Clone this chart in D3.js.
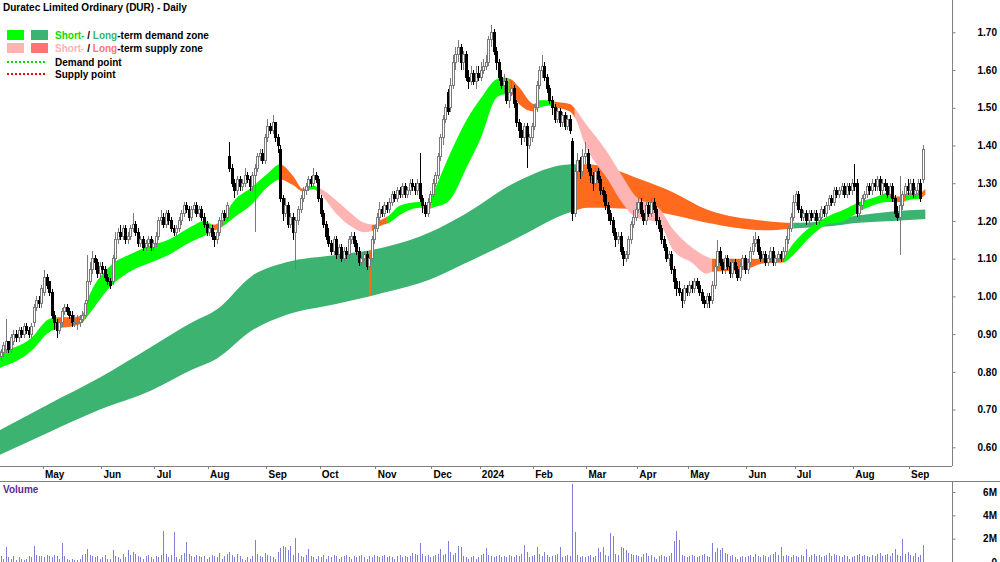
<!DOCTYPE html>
<html>
<head>
<meta charset="utf-8">
<script src="https://cdn.jsdelivr.net/npm/d3@7"></script>
<style>
  body { margin: 0; background: #fff; }
  svg { display: block; font-family: "Liberation Sans", Arial, sans-serif; }
</style>
</head>
<body>
<svg id="chart" width="1000" height="562"></svg>
<script>
// daily candles, prices in cents (one value per trading day, Apr 2023 -> Sep 2024)
const opens = [
  84,85,86,88,86,88,90,89,91,90, 92,91,90,93,97,99,98,101,105,104,
  101,95,93,91,93,96,97,96,95,93, 93,93,94,95,99,104,107,110,109,106,
  108,107,105,104,104,110,115,117,116,118, 115,116,118,119,117,114,115,113,114,115,
  113,114,116,120,121,119,122,120,118,117, 118,120,122,124,123,121,123,124,122,123,
  121,119,117,118,116,115,117,120,122,121, 137,134,130,128,131,129,130,132,131,129,
  132,134,137,138,136,142,145,144,146,142, 139,126,122,124,119,121,117,120,123,126,
  128,129,131,130,132,131,126,122,119,116, 114,112,115,111,113,110,112,111,115,116,
  114,112,109,110,111,108,110,115,118,121, 123,122,124,123,125,127,126,128,127,129,
  127,128,130,129,128,130,126,124,122,125, 127,130,132,137,142,147,154,150,156,162,
  164,166,162,164,158,157,159,157,159,158, 160,161,162,168,170,165,162,158,156,157,
  152,154,155,151,146,144,142,145,140,142, 145,150,156,160,161,158,155,152,150,147,
  149,146,148,145,147,141,122,133,136,133, 137,138,134,132,130,133,131,128,127,124,
  122,120,117,115,116,112,110,111,115,119, 121,123,125,122,120,124,122,125,123,120,
  118,115,113,110,111,107,104,102,101,99, 102,101,103,102,104,103,101,99,98,100,
  99,103,108,112,109,107,110,108,106,109, 107,105,108,110,107,109,112,114,115,112,
  110,111,109,110,112,109,110,111,110,112, 115,118,121,125,127,123,121,122,120,122,
  121,122,120,121,123,122,124,126,125,128, 127,128,129,127,129,128,130,130,122,124,
  126,127,129,128,130,129,131,128,130,129, 127,129,126,122,121,124,127,129,128,130,
  127,128,130,131
]
const highs = [
  86,88,94,88,90,91,91,92,92,93, 93,92,93,98,100,100,103,107,106,104,
  102,96,94,94,97,98,98,97,96,95, 95,95,96,99,111,109,112,111,110,109,
  109,108,106,105,111,117,118,119,119,119, 117,119,122,120,118,116,116,115,116,116,
  115,117,121,123,122,123,123,121,119,119, 121,123,125,125,124,124,125,125,124,124,
  122,120,119,119,117,118,121,123,123,125, 141,135,131,132,132,131,134,133,132,133,
  135,138,139,139,143,147,146,148,146,143, 140,127,126,125,122,122,121,124,127,129,
  130,132,132,134,133,132,127,123,120,118, 115,116,116,114,114,113,113,116,117,117,
  115,113,111,112,112,111,116,119,122,125, 124,125,125,126,128,128,129,129,130,130,
  129,131,131,130,131,138,127,125,126,128, 131,133,138,143,148,151,155,158,164,166,
  168,167,165,165,160,161,160,161,161,162, 163,164,169,172,171,166,163,160,159,158,
  155,157,156,152,147,146,146,146,143,146, 151,157,161,164,162,159,156,153,151,150,
  150,149,149,148,148,142,134,138,137,139, 141,139,135,133,134,134,132,129,128,125,
  123,121,118,117,117,113,112,116,120,123, 125,126,126,123,125,125,126,126,124,121,
  119,116,114,112,112,108,105,104,102,103, 103,104,104,105,105,104,102,100,101,101,
  104,110,115,113,110,111,111,109,110,110, 108,109,111,111,110,113,116,117,116,113,
  112,112,111,113,113,111,112,112,113,116, 119,122,127,128,128,124,123,123,123,123,
  123,123,122,124,124,125,127,127,129,129, 129,130,130,130,130,131,135,131,125,127,
  128,130,130,131,131,132,132,131,131,130, 130,130,127,124,132,128,130,131,131,131,
  129,131,131,140
]
const lows = [
  83,84,85,85,85,87,88,88,89,89, 90,89,89,92,96,97,97,100,102,100,
  94,91,89,90,92,95,95,94,92,92, 91,92,93,94,98,103,106,107,105,105,
  106,104,103,102,103,109,114,115,115,114, 114,115,117,116,113,113,112,112,113,112,
  112,113,115,119,118,118,119,117,116,116, 117,119,121,122,120,120,122,121,121,120,
  118,116,116,115,113,114,116,119,120,120, 133,129,126,127,128,128,129,130,128,128,
  117,133,136,135,135,141,143,143,141,138, 125,120,121,118,118,115,107,119,122,125,
  127,128,129,129,130,125,121,118,115,113, 111,111,110,110,109,109,110,110,114,113,
  111,108,108,109,107,107,109,114,117,120, 121,121,122,122,124,125,125,126,126,126,
  126,127,128,127,127,125,122,121,121,124, 126,129,131,136,140,146,148,149,155,160,
  162,160,160,157,155,156,156,155,157,157, 159,160,161,166,164,160,157,155,154,151,
  150,153,150,145,142,140,141,134,139,141, 144,149,155,158,157,154,151,148,146,146,
  145,145,144,144,143,120,121,131,131,132, 135,133,130,128,129,130,127,125,123,120,
  119,116,113,114,111,108,109,110,114,118, 120,122,121,119,119,121,121,122,119,117,
  114,112,109,108,106,102,100,100,97,98, 100,100,101,101,102,100,98,97,97,97,
  98,102,107,108,106,106,107,105,105,106, 104,104,107,106,106,108,111,113,111,109,
  109,108,108,109,108,108,109,109,109,111, 114,117,120,124,122,120,120,119,119,120,
  120,119,119,120,121,121,123,124,124,126, 126,127,126,126,127,127,128,121,120,123,
  125,126,127,127,128,128,127,127,128,126, 126,125,121,120,111,123,126,127,127,126,
  126,127,125,130
]
const closes = [
  85,87,88,86,89,90,89,91,90,92, 91,90,92,97,99,98,102,105,103,101,
  95,93,91,93,96,97,96,95,93,93, 93,94,95,98,104,107,110,109,106,108,
  107,105,104,103,110,115,117,116,118,115, 116,118,119,117,114,115,113,114,115,113,
  114,116,120,121,119,122,120,118,117,118, 120,122,124,123,121,123,124,122,123,121,
  119,117,118,116,115,117,120,122,121,124, 134,130,128,131,129,130,132,131,129,132,
  134,137,138,136,142,145,144,146,142,140, 126,122,124,119,121,117,120,123,126,128,
  129,131,130,132,131,126,122,119,116,114, 112,115,111,113,110,112,111,115,116,114,
  112,109,110,111,108,110,115,118,121,123, 122,124,123,125,127,126,128,127,129,127,
  128,130,129,128,130,126,124,122,125,127, 130,132,137,142,147,150,149,156,162,164,
  166,162,164,158,157,159,157,159,158,160, 161,162,168,170,165,162,158,156,157,152,
  154,155,151,146,144,142,145,140,142,145, 150,156,160,161,158,155,152,150,147,149,
  146,148,145,147,144,122,133,136,133,137, 138,134,132,130,133,131,128,127,124,122,
  120,117,115,116,112,110,111,115,119,121, 123,125,122,120,124,122,125,123,120,118,
  115,113,110,111,107,104,102,101,99,102, 101,103,102,104,103,101,99,98,100,99,
  103,108,112,109,107,110,108,106,109,107, 105,108,110,107,109,112,114,115,112,110,
  111,109,110,112,109,110,111,110,112,115, 118,121,125,127,123,121,122,120,122,121,
  122,120,121,123,122,124,126,125,128,127, 128,129,127,129,128,130,129,122,124,126,
  127,129,128,130,129,131,128,130,129,127, 129,126,122,121,124,127,129,128,130,127,
  128,130,126,139
]
// daily volume, millions of shares
const volumes = [
  0.5,0.3,1.3,0.4,0.3,0.5,0.2,0.4,0.3,0.2, 0.3,0.5,0.4,1.4,0.6,0.5,0.5,0.4,0.6,0.5,
  0.4,0.6,0.5,0.3,1.6,0.5,0.3,0.2,0.3,0.2, 0.2,0.3,0.6,0.7,1.1,0.6,0.5,0.4,0.5,0.3,
  0.4,0.6,0.3,0.3,1.0,0.5,0.4,0.3,0.7,0.4, 1.0,0.6,0.9,0.7,0.5,0.4,0.3,0.5,0.6,0.4,
  0.3,0.5,0.4,0.6,2.7,0.7,0.4,0.6,2.6,0.4, 0.3,0.6,0.8,1.7,0.7,0.5,0.4,0.6,0.5,0.4,
  0.5,0.3,0.4,0.6,0.5,0.4,0.8,0.3,0.5,0.7, 0.9,0.6,0.4,0.7,0.5,0.3,0.2,0.4,0.3,0.5,
  1.9,0.7,0.5,0.4,0.8,0.6,0.5,0.4,0.3,0.9, 1.2,1.4,1.3,1.0,1.4,0.6,2.1,0.8,0.5,0.4,
  0.6,1.1,0.5,0.4,0.3,0.5,0.4,0.6,0.3,0.5, 0.4,0.6,0.5,0.3,0.4,0.5,0.6,0.4,0.3,0.5,
  0.4,0.5,0.6,0.4,0.3,0.5,0.4,0.6,0.5,0.4, 0.5,0.6,0.4,0.5,0.4,0.3,0.5,0.6,0.4,0.5,
  0.4,0.5,0.8,0.7,0.6,1.6,0.7,0.5,0.6,0.4, 0.5,0.6,0.7,1.1,0.6,0.7,1.8,0.9,0.6,0.8,
  1.4,1.3,0.5,0.4,0.3,0.4,0.5,0.3,0.4,0.6, 0.7,1.2,0.6,0.5,0.4,0.5,0.6,0.4,0.5,0.4,
  0.6,0.5,0.4,0.6,0.5,0.7,1.5,0.9,0.4,0.5, 0.6,1.3,0.7,0.5,0.9,0.6,0.4,0.5,0.6,0.7,
  1.3,0.4,0.5,0.6,0.5,6.7,2.6,0.6,0.4,0.5, 0.4,0.5,0.6,0.4,0.5,1.2,0.9,1.3,0.6,0.5,
  2.5,2.2,0.7,0.6,1.3,1.2,1.0,0.8,0.7,0.6, 0.6,0.5,0.4,0.7,0.8,0.5,0.6,0.4,0.3,0.5,
  0.6,0.5,0.4,0.5,0.8,1.8,2.7,1.9,0.6,0.5, 0.4,0.5,0.6,0.5,0.4,0.5,0.6,0.7,0.5,0.4,
  1.6,0.9,1.2,1.0,1.2,0.8,0.7,0.5,0.6,0.4, 0.3,0.4,0.5,0.4,0.5,0.6,0.4,0.7,0.5,0.4,
  0.6,0.5,0.4,0.6,0.7,0.9,0.6,1.3,0.5,0.6, 0.5,0.4,0.6,0.5,0.4,0.6,0.5,1.1,0.4,0.6,
  0.7,0.5,0.6,0.4,0.5,0.6,0.8,0.5,0.7,0.6, 0.5,0.4,0.6,0.5,0.3,0.4,0.5,0.6,0.7,0.5,
  0.6,0.5,0.4,0.6,0.5,0.7,0.8,0.5,0.6,0.7, 0.5,0.8,1.1,0.6,0.5,2.0,0.7,0.9,0.6,0.5,
  0.8,0.4,0.6,1.5
]

// month labels and the trading-day index where each month starts
const monthLabels = ['May', 'Jun', 'Jul', 'Aug', 'Sep', 'Oct', 'Nov', 'Dec', '2024', 'Feb', 'Mar', 'Apr', 'May', 'Jun', 'Jul', 'Aug', 'Sep']
const monthStarts = [17, 40, 61, 82, 105, 126, 148, 170, 189, 210, 231, 251, 271, 294, 313, 336, 358]

const priceTicks = [0.6, 0.7, 0.8, 0.9, 1.0, 1.1, 1.2, 1.3, 1.4, 1.5, 1.6, 1.7]
const volumeTicks = [0, 2, 4, 6]

// short-term zone edges (read at sample days)
const shortZoneDay = [-0.5, 12, 19, 23, 29, 32, 35, 43, 52, 59, 66, 75, 80, 84, 86, 92, 99, 105, 110, 115,
  119, 123, 126, 132, 138, 143, 147, 149, 153, 157, 165, 168, 170, 176, 184, 189, 195, 198, 201, 204,
  210, 212, 216, 219, 224, 227, 229, 239, 245, 250, 259, 265, 272, 278, 280, 292, 301, 308, 312, 319,
  325, 332, 338, 345, 349, 352, 355, 357, 362, 364]
const shortZoneTop = [0.855, 0.89, 0.94, 0.945, 0.945, 0.952, 1.005, 1.08, 1.115, 1.135, 1.15, 1.185, 1.20, 1.19, 1.197, 1.255, 1.29, 1.325, 1.35, 1.32,
  1.285, 1.293, 1.285, 1.255, 1.22, 1.195, 1.19, 1.20, 1.215, 1.24, 1.25, 1.24, 1.27, 1.365, 1.475, 1.525, 1.575, 1.58, 1.575, 1.555,
  1.51, 1.52, 1.52, 1.515, 1.51, 1.49, 1.47, 1.38, 1.315, 1.265, 1.235, 1.175, 1.13, 1.105, 1.10, 1.10, 1.10, 1.105, 1.14, 1.185,
  1.21, 1.23, 1.25, 1.265, 1.275, 1.265, 1.265, 1.275, 1.275, 1.285]
const shortZoneBottom = [0.81, 0.855, 0.905, 0.915, 0.922, 0.93, 0.955, 1.025, 1.07, 1.09, 1.11, 1.145, 1.16, 1.175, 1.18, 1.21, 1.245, 1.29, 1.31, 1.295,
  1.278, 1.284, 1.27, 1.22, 1.185, 1.17, 1.175, 1.185, 1.195, 1.215, 1.235, 1.23, 1.235, 1.25, 1.35, 1.42, 1.525, 1.535, 1.535, 1.51,
  1.49, 1.50, 1.505, 1.50, 1.49, 1.46, 1.42, 1.31, 1.245, 1.21, 1.195, 1.12, 1.09, 1.06, 1.065, 1.07, 1.088, 1.09, 1.11, 1.16,
  1.19, 1.20, 1.225, 1.245, 1.25, 1.25, 1.25, 1.255, 1.26, 1.27]
// [from day, to day, zone state]
const shortZoneRuns = [
  [-1, 22, 'demand'], [22, 33, 'supplyEdge'], [33, 83, 'demand'], [83, 85.5, 'supplyEdge'],
  [85.5, 110.5, 'demand'], [110.5, 121, 'supplyEdge'], [121, 125, 'demand'], [125, 146, 'supply'],
  [146, 152, 'supplyEdge'], [152, 166.5, 'demand'], [166.5, 169.5, 'supplyEdge'], [169.5, 200, 'demand'],
  [200, 211, 'supplyEdge'], [211, 218, 'demand'], [218, 226, 'supplyEdge'], [226, 280, 'supply'],
  [280, 308, 'supplyEdge'], [308, 351, 'demand'], [351, 356, 'supplyEdge'], [356, 362.5, 'demand'],
  [362.5, 366, 'supplyEdge']
]

// long-term zone edges
const longZoneDay = [-0.5, 19, 39, 59, 75, 85, 99, 112, 132, 151, 169, 182, 202, 225, 231, 252, 265, 278, 301, 312, 325, 338, 351, 364]
const longZoneTop = [0.645, 0.715, 0.785, 0.865, 0.93, 0.965, 1.055, 1.09, 1.11, 1.13, 1.17, 1.215, 1.30, 1.35, 1.35, 1.31, 1.275, 1.23, 1.20, 1.195, 1.20, 1.215, 1.225, 1.23]
const longZoneBottom = [0.58, 0.64, 0.70, 0.75, 0.805, 0.835, 0.91, 0.95, 0.98, 1.01, 1.045, 1.085, 1.15, 1.225, 1.235, 1.23, 1.215, 1.195, 1.175, 1.18, 1.185, 1.195, 1.20, 1.205]
const longZoneRuns = [
  [-1, 145, 'longDemand'], [145, 145.8, 'supplyEdge'], [145.8, 226.5, 'longDemand'],
  [226.5, 312, 'supplyEdge'], [312, 366, 'longDemand']
]

const zoneColours = {
  demand: '#00ff00',
  longDemand: '#3cb371',
  supply: '#ffb4b4',
  supplyEdge: '#ff6a1f'
}

// layout
const axisX = 952
const plotBottom = 466
const dateBottom = 481
const gridGrey = '#808080'

const svg = d3.select('#chart')
const defs = svg.append('defs')

const x = d3.scaleLinear().domain([0, 363]).range([0.8, 922.8])
const y = d3.scaleLinear().domain([0.6, 1.7]).range([447.3, 32.3])
const yVol = d3.scaleLinear().domain([0, 6]).range([562, 492])

defs.append('clipPath').attr('id', 'price-clip')
  .append('rect').attr('x', 0).attr('y', 0).attr('width', axisX).attr('height', plotBottom)

const pricePanel = svg.append('g').attr('clip-path', 'url(#price-clip)')

// zone ribbons, coloured run by run
function drawZone(name, days, tops, bottoms, runs) {
  const points = days.map((d, i) => ({ day: d, top: tops[i], bottom: bottoms[i] }))
  const area = d3.area()
    .x(d => x(d.day))
    .y0(d => y(d.bottom))
    .y1(d => y(d.top))
    .curve(d3.curveMonotoneX)

  runs.forEach(([from, to, kind], k) => {
    const id = name + '-run-' + k
    defs.append('clipPath').attr('id', id)
      .append('rect')
      .attr('x', x(from)).attr('y', 0)
      .attr('width', x(to) - x(from)).attr('height', plotBottom)

    pricePanel.append('path')
      .datum(points)
      .attr('d', area)
      .attr('fill', zoneColours[kind])
      .attr('clip-path', 'url(#' + id + ')')
  })
}

drawZone('long', longZoneDay, longZoneTop, longZoneBottom, longZoneRuns)
drawZone('short', shortZoneDay, shortZoneTop, shortZoneBottom, shortZoneRuns)

// candles
const candles = closes.map((c, i) => ({
  day: i,
  open: opens[i] / 100,
  high: highs[i] / 100,
  low: lows[i] / 100,
  close: c / 100
}))

const candleG = pricePanel.append('g').attr('shape-rendering', 'crispEdges')
const px = d => Math.round(x(d.day))
const candleColour = d => d.close >= d.open ? '#7a7a7a' : '#000'

candleG.selectAll('line')
  .data(candles)
  .join('line')
  .attr('x1', d => px(d) + 0.5)
  .attr('x2', d => px(d) + 0.5)
  .attr('y1', d => y(d.high))
  .attr('y2', d => y(d.low))
  .attr('stroke', candleColour)

candleG.selectAll('rect')
  .data(candles)
  .join('rect')
  .attr('x', d => px(d) - 0.5)
  .attr('width', 2)
  .attr('y', d => y(Math.max(d.open, d.close)))
  .attr('height', d => Math.max(Math.abs(y(d.open) - y(d.close)), 0.5))
  .attr('fill', d => d.close >= d.open ? '#fff' : '#000')
  .attr('stroke', candleColour)

// volume bars
svg.append('g')
  .attr('shape-rendering', 'crispEdges')
  .selectAll('line')
  .data(volumes)
  .join('line')
  .attr('x1', (v, i) => Math.round(x(i)) + 0.5)
  .attr('x2', (v, i) => Math.round(x(i)) + 0.5)
  .attr('y1', yVol(0))
  .attr('y2', v => yVol(v))
  .attr('stroke', '#7f7fd6')

// frame lines
const frame = svg.append('g').attr('stroke', gridGrey).attr('shape-rendering', 'crispEdges')
frame.append('line').attr('x1', 0).attr('x2', axisX).attr('y1', plotBottom + 0.5).attr('y2', plotBottom + 0.5)
frame.append('line').attr('x1', 0).attr('x2', 1000).attr('y1', dateBottom + 0.5).attr('y2', dateBottom + 0.5)
frame.append('line').attr('x1', axisX + 0.5).attr('x2', axisX + 0.5).attr('y1', 0).attr('y2', plotBottom)
frame.append('line').attr('x1', axisX + 0.5).attr('x2', axisX + 0.5).attr('y1', dateBottom).attr('y2', 562)

// price axis on the right
const priceAxis = svg.append('g')
  .attr('transform', `translate(${axisX + 0.5},0)`)
  .call(d3.axisRight(y).tickValues(priceTicks).tickSize(3).tickFormat(d3.format('.2f')))
priceAxis.select('.domain').remove()

// volume axis
const volAxis = svg.append('g')
  .attr('transform', `translate(${axisX + 0.5},0)`)
  .call(d3.axisRight(yVol).tickValues(volumeTicks).tickSize(3).tickFormat(d => d === 0 ? '0' : d + 'M'))
volAxis.select('.domain').remove()

;[priceAxis, volAxis].forEach(a => {
  a.attr('font-family', '"Liberation Sans", Arial, sans-serif')
    .attr('font-size', 10)
    .attr('font-weight', 'bold')
  a.selectAll('line').attr('stroke', gridGrey)
  a.selectAll('text').attr('x', 44.5).attr('text-anchor', 'end').attr('fill', '#000')
})

// month band
const months = monthLabels.map((label, i) => ({ label, day: monthStarts[i] }))
const monthG = svg.append('g')
monthG.selectAll('line')
  .data(months)
  .join('line')
  .attr('x1', d => Math.round(x(d.day) - 1.3) + 0.5)
  .attr('x2', d => Math.round(x(d.day) - 1.3) + 0.5)
  .attr('y1', plotBottom)
  .attr('y2', plotBottom + 3)
  .attr('stroke', gridGrey)
monthG.selectAll('text')
  .data(months)
  .join('text')
  .attr('x', d => x(d.day) + 1)
  .attr('y', 477.5)
  .attr('font-size', 10)
  .attr('font-weight', 'bold')
  .text(d => d.label)

svg.append('text')
  .attr('x', 3).attr('y', 493)
  .attr('font-size', 10).attr('font-weight', 'bold')
  .attr('fill', '#5a2a8c')
  .text('Volume')

// title and legend
svg.append('text')
  .attr('x', 3).attr('y', 10.5)
  .attr('font-size', 10).attr('font-weight', 'bold')
  .text('Duratec Limited Ordinary (DUR) - Daily')

const legend = svg.append('g').attr('font-size', 10).attr('font-weight', 'bold')
const swatchRows = [
  { y: 30, colours: ['#00ff00', '#3cb371'], text: [['Short-', '#00e000'], [' / ', '#000'], ['Long', '#3cb371'], ['-term demand zone', '#000']], base: 38.5 },
  { y: 43, colours: ['#ffb4b4', '#ff7373'], text: [['Short-', '#ffb4b4'], [' / ', '#000'], ['Long', '#ff7373'], ['-term supply zone', '#000']], base: 52 }
]
swatchRows.forEach(row => {
  legend.append('rect').attr('x', 7).attr('y', row.y).attr('width', 17).attr('height', 10).attr('fill', row.colours[0])
  legend.append('rect').attr('x', 31).attr('y', row.y).attr('width', 17).attr('height', 10).attr('fill', row.colours[1])
  const t = legend.append('text').attr('x', 55).attr('y', row.base)
  row.text.forEach(([s, c]) => t.append('tspan').attr('fill', c).text(s))
})

const pointRows = [
  { y: 62, colour: '#00dd00', label: 'Demand point', base: 65.5 },
  { y: 74, colour: '#ee0000', label: 'Supply point', base: 78 }
]
pointRows.forEach(row => {
  legend.append('line')
    .attr('x1', 7).attr('x2', 45).attr('y1', row.y).attr('y2', row.y)
    .attr('stroke', row.colour).attr('stroke-width', 2).attr('stroke-dasharray', '2,2')
  legend.append('text').attr('x', 55).attr('y', row.base).text(row.label)
})
</script>
</body>
</html>
